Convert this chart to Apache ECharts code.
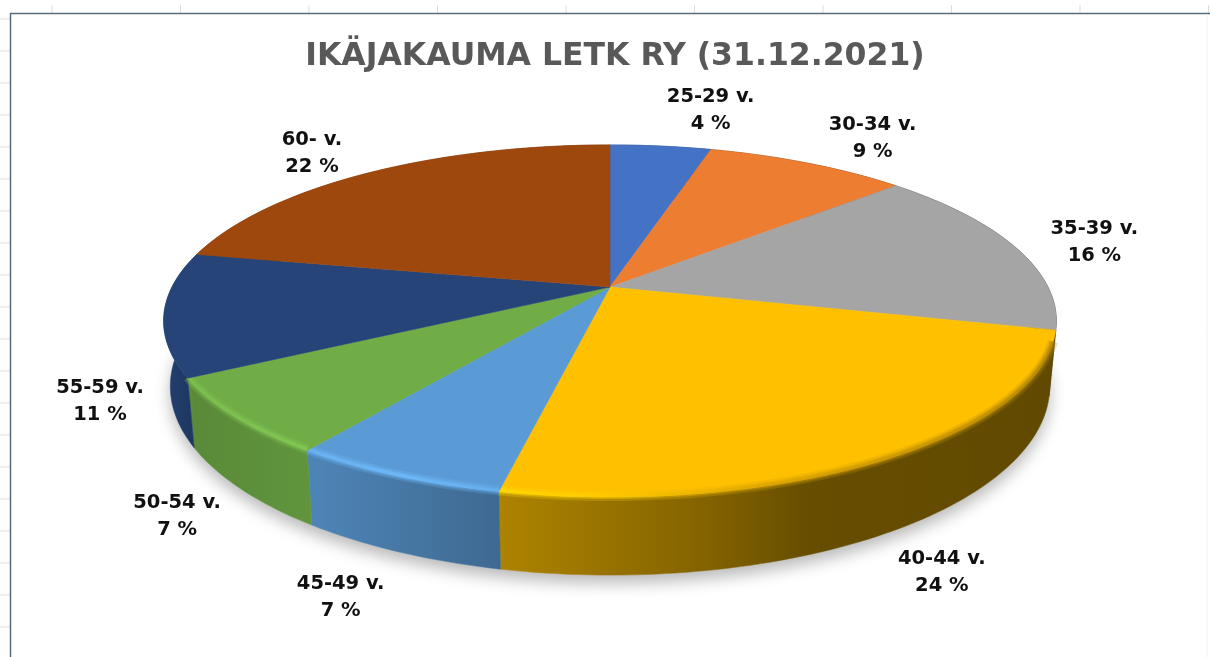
<!DOCTYPE html>
<html>
<head>
<meta charset="utf-8">
<title>Ikäjakauma</title>
<script src="https://cdn.jsdelivr.net/npm/echarts@6/dist/echarts.min.js"></script>
<style>
  html, body { margin: 0; padding: 0; background: #fff; }
  #main { width: 1210px; height: 657px; }
</style>
</head>
<body>
<div id="main"></div>
<script>
// data, the slices are a bit finer than the rounded labels
const ageGroups = ["25-29 v.", "30-34 v.", "35-39 v.", "40-44 v.", "45-49 v.", "50-54 v.", "55-59 v.", "60- v."];
const shares = [4.4, 8.8, 15.7, 24.4, 6.6, 7.0, 11.3, 21.8];
const sliceColors = ["#4472c4", "#ed7d31", "#a5a5a5", "#ffc000", "#5b9bd5", "#70ad47", "#264478", "#9e480e"];

// label centre, relative to the middle of each slice's rim
const labelOffsets = [[50, -36], [65, -25], [79, -5], [54, 114], [-55, 122], [-58, 100], [-64, 88], [-57, -19]];

// projection of the pie disc (the excel 3d pie has real perspective, not a plain ellipse)
const cx = 610, cy = 287;
const scaleX = 438, scaleY = 169.5, persp = 0.193;
const depth = 63, bottomShrink = 0.985;

// lighting across the wall and the bevel, as [x, brightness]
const wallLight = [[160, 0.95], [195, 0.8], [310, 0.86], [500, 0.68], [700, 0.52], [810, 0.4], [1060, 0.38]];
const rimLight = [[160, 1.1], [400, 1.22], [600, 1.06], [760, 0.85], [1060, 0.66]];

const total = shares.reduce((a, b) => a + b, 0);
const starts = [];
shares.reduce((sum, v, i) => {
  starts[i] = sum;
  return sum + v;
}, 0);

function project(share, onBottom) {
  const t = share / total * Math.PI * 2;
  const u = Math.sin(t), v = Math.cos(t);
  const w = 1 + persp * v;
  let x = scaleX * u / w;
  let y = -scaleY * v / w;
  if (onBottom) {
    x *= bottomShrink;
    y += depth / w;
  }
  return [cx + x, cy + y];
}

function arc(from, to, onBottom) {
  const pts = [];
  const steps = Math.max(8, Math.ceil((to - from) * 3));
  for (let i = 0; i <= steps; i++) {
    pts.push(project(from + (to - from) * i / steps, onBottom));
  }
  return pts;
}

function shade(hex, k) {
  const n = parseInt(hex.slice(1), 16);
  const c = [n >> 16, (n >> 8) & 255, n & 255].map((p) => Math.min(255, Math.round(p * k)));
  return "rgb(" + c.join(",") + ")";
}

function lightGradient(hex, table) {
  const x0 = table[0][0], x1 = table[table.length - 1][0];
  const stops = table.map((s) => ({ offset: (s[0] - x0) / (x1 - x0), color: shade(hex, s[1]) }));
  return new echarts.graphic.LinearGradient(x0, 0, x1, 0, stops, true);
}

function renderShadow(params) {
  if (params.dataIndex !== 0) return null;
  return {
    type: "polygon",
    shape: { points: arc(0, total, true) },
    style: { fill: "#dfe2e5", shadowBlur: 16, shadowColor: "rgba(0,0,0,0.28)", shadowOffsetY: 8 },
    silent: true,
  };
}

function renderWall(params) {
  const i = params.dataIndex;
  const from = starts[i], to = from + shares[i];
  const points = arc(from, to, false).concat(arc(from, to, true).reverse());
  const fill = lightGradient(sliceColors[i], wallLight);
  return { type: "polygon", shape: { points: points }, style: { fill: fill, stroke: fill, lineWidth: 0.5 } };
}

function renderTop(params) {
  const i = params.dataIndex;
  const from = starts[i], to = from + shares[i];
  const color = sliceColors[i];
  const children = [{
    type: "polygon",
    shape: { points: [[cx, cy]].concat(arc(from, to, false)) },
    style: { fill: color, stroke: color, lineWidth: 0.5 },
  }];
  // bevel on the front part of the rim, only where a wall lies under it
  const a = Math.max(from, total * 0.3), b = Math.min(to, starts[6]);
  if (b > a) {
    const rim = arc(a, b, false).map((p) => [p[0], p[1] - 1]);
    const stroke = lightGradient(color, rimLight);
    [[10, 0.25], [6, 0.4], [3, 0.6]].forEach((layer) => {
      children.push({
        type: "polyline",
        shape: { points: rim },
        style: { fill: null, stroke: stroke, lineWidth: layer[0], opacity: layer[1] },
      });
    });
  }
  return { type: "group", children: children };
}

function renderLabel(params) {
  const i = params.dataIndex;
  const mid = project(starts[i] + shares[i] / 2, false);
  return {
    type: "text",
    x: mid[0] + labelOffsets[i][0],
    y: mid[1] + labelOffsets[i][1],
    style: {
      text: ageGroups[i] + "\n" + Math.round(shares[i]) + " %",
      fill: "#111",
      font: 'bold 19.5px "DejaVu Sans"',
      lineHeight: 27,
      align: "center",
      verticalAlign: "middle",
    },
  };
}

// sheet frame behind the chart: gridlines in the margin and the chart border
const frame = [];
for (let x = 52; x < 1210; x += 128.5) {
  frame.push({ type: "line", shape: { x1: x, y1: 5, x2: x, y2: 13 }, style: { stroke: "#dcdfe2", lineWidth: 1 } });
}
for (let y = 19; y < 657; y += 32) {
  frame.push({ type: "line", shape: { x1: 0, y1: y, x2: 10, y2: y }, style: { stroke: "#dcdfe2", lineWidth: 1 } });
}
frame.push({ type: "line", shape: { x1: 10, y1: 13.5, x2: 1210, y2: 13.5 }, style: { stroke: "#5a6b7c", lineWidth: 1.5 } });
frame.push({ type: "line", shape: { x1: 10.5, y1: 13, x2: 10.5, y2: 657 }, style: { stroke: "#5a6b7c", lineWidth: 1.5 } });
frame.push({ type: "line", shape: { x1: 1207, y1: 14, x2: 1207, y2: 657 }, style: { stroke: "#eef2f5", lineWidth: 1 } });

const chart = echarts.init(document.getElementById("main"));
chart.setOption({
  animation: false,
  backgroundColor: "#fff",
  title: {
    text: "IKÄJAKAUMA LETK RY (31.12.2021)",
    left: 610,
    top: 36,
    textAlign: "center",
    textStyle: { color: "#595959", fontFamily: "DejaVu Sans", fontWeight: "bold", fontSize: 31.5 },
  },
  graphic: frame,
  series: [
    { type: "custom", coordinateSystem: "none", renderItem: renderShadow, data: shares, z: 1, silent: true },
    { type: "custom", coordinateSystem: "none", renderItem: renderWall, data: shares, z: 2, silent: true },
    { type: "custom", coordinateSystem: "none", renderItem: renderTop, data: shares, z: 3, silent: true },
    { type: "custom", coordinateSystem: "none", renderItem: renderLabel, data: shares, z: 4, silent: true },
  ],
});
</script>
</body>
</html>
